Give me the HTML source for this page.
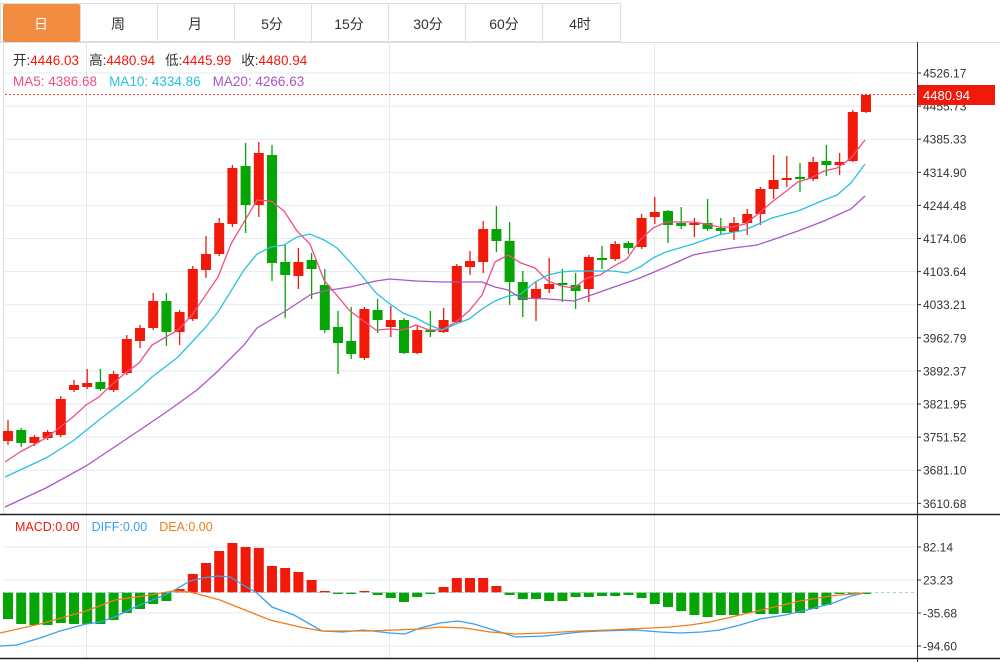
<!DOCTYPE html>
<html><head><meta charset="utf-8"><style>
body{margin:0;background:#fff;width:1000px;height:662px;overflow:hidden;font-family:"Liberation Sans","Noto Sans CJK SC",sans-serif}
svg{position:absolute;left:0;top:0}
</style></head><body>
<svg id="s" width="1000" height="662" xmlns="http://www.w3.org/2000/svg" font-family="Liberation Sans, Noto Sans CJK SC, sans-serif"></svg>
<script>
var s=document.getElementById('s'),h='';
var tabs=['日','周','月','5分','15分','30分','60分','4时'];
var cx=[41,118,195,272,349,428,504,580];
h+='<rect x="0.5" y="3.5" width="620" height="38" fill="#fff" stroke="#ddd"/>';
h+='<rect x="3" y="4" width="77" height="38" fill="#f28c41" rx="2"/>';
var bx=[80,157,234,311,388,465,542,620];
for(var i=0;i<bx.length;i++)h+='<line x1="'+(bx[i]+0.5)+'" y1="4" x2="'+(bx[i]+0.5)+'" y2="42" stroke="#ddd"/>';
for(var i=0;i<8;i++)h+='<text x="'+cx[i]+'" y="29" font-size="14" text-anchor="middle" fill="'+(i==0?'#fff':'#333')+'">'+tabs[i]+'</text>';
h+='<line x1="0" y1="42.5" x2="1000" y2="42.5" stroke="#ddd"/>';
h+='<line x1="3.5" y1="42" x2="3.5" y2="514" stroke="#ddd"/>';
var pl=['4526.17','4455.73','4385.33','4314.90','4244.48','4174.06','4103.64','4033.21','3962.79','3892.37','3821.95','3751.52','3681.10','3610.68'];
for(var k=0;k<14;k++){var y=73+k*33.1;h+='<line x1="4" y1="'+y.toFixed(1)+'" x2="917" y2="'+y.toFixed(1)+'" stroke="#e3ebf2"/>';
h+='<line x1="917" y1="'+y.toFixed(1)+'" x2="921" y2="'+y.toFixed(1)+'" stroke="#333"/>';
h+='<text x="923" y="'+(y+4.5).toFixed(1)+'" font-size="12" fill="#333">'+pl[k]+'</text>';}
[86,389,654].forEach(function(x){h+='<line x1="'+x+'.5" y1="42" x2="'+x+'.5" y2="658" stroke="#e3ebf2"/>';});
[547,580,613,646].forEach(function(y,k){h+='<line x1="4" y1="'+y+'" x2="917" y2="'+y+'" stroke="#e3ebf2"/><line x1="917" y1="'+y+'" x2="921" y2="'+y+'" stroke="#333"/><text x="923" y="'+(y+4.5)+'" font-size="12" fill="#333">'+['82.14','23.23','-35.68','-94.60'][k]+'</text>';});
h+='<line x1="917.5" y1="42" x2="917.5" y2="662" stroke="#333"/>';
h+='<line x1="0" y1="514.5" x2="1000" y2="514.5" stroke="#222" stroke-width="1.5"/>';
h+='<line x1="0" y1="658.5" x2="1000" y2="658.5" stroke="#222" stroke-width="1.5"/>';
h+='<text x="13" y="65" font-size="13.5"><tspan fill="#333">开:</tspan><tspan fill="#f0190a">4446.03</tspan><tspan fill="#333" dx="10">高:</tspan><tspan fill="#f0190a">4480.94</tspan><tspan fill="#333" dx="10">低:</tspan><tspan fill="#f0190a">4445.99</tspan><tspan fill="#333" dx="10">收:</tspan><tspan fill="#f0190a">4480.94</tspan></text>';
h+='<text x="13" y="86" font-size="13.5"><tspan fill="#ee4f83">MA5: 4386.68</tspan><tspan fill="#29c2dc" dx="12">MA10: 4334.86</tspan><tspan fill="#ab55c9" dx="12">MA20: 4266.63</tspan></text>';
h+='<text x="15" y="531" font-size="12.5"><tspan fill="#f0190a">MACD:0.00</tspan><tspan fill="#3aa0f0" dx="12">DIFF:0.00</tspan><tspan fill="#f07d1c" dx="12">DEA:0.00</tspan></text>';
var C=[['r',441,431,420,445],['g',430,443,428,447],['r',443,437,435,446],['r',438,432,430,440],['r',435,399,396,437],['r',390,385,380,392],['r',387,383,369,389],['g',382,389,369,391],['r',390,374,371,392],['r',373,339,335,375],['r',341,328,325,348],['r',328,301,293,330],['g',301,332,293,346],['r',332,312,310,345],['r',319,269,266,321],['r',270,254,236,278],['r',254,223,218,256],['r',224,168,165,227],['g',166,205,143,233],['r',205,153,142,217],['g',155,263,145,281],['g',262,275,245,318],['r',276,262,248,289],['g',260,269,253,299],['g',285,330,269,333],['g',327,343,311,374],['g',341,354,307,359],['r',358,309,307,360],['g',310,320,299,333],['r',327,320,306,337],['g',320,353,318,354],['r',353,330,326,354],['g',330,332,311,337],['r',332,320,308,333],['r',322,266,264,323],['r',267,261,251,275],['r',262,229,221,273],['g',229,241,206,252],['g',241,282,222,305],['g',282,300,271,317],['r',298,289,282,321],['r',289,284,258,293],['g',283,285,269,302],['g',285,291,273,309],['r',289,257,255,302],['g',258,260,246,269],['r',259,244,241,261],['g',243,248,241,254],['r',247,218,214,249],['r',217,212,197,224],['g',211,225,210,243],['g',223,226,207,229],['r',225,223,218,237],['g',223,229,199,231],['g',228,231,218,234],['r',232,223,217,240],['r',223,214,209,235],['r',214,189,187,225],['r',189,180,155,199],['r',180,178,156,187],['g',177,179,163,192],['r',179,162,157,181],['g',161,165,145,176],['r',165,162,153,175],['r',161,112,110,162],['r',112,95,94,113]];
var R='#f0190a',G='#06a506';
C.forEach(function(c,i){var x=8+i*13.2,col=c[0]=='r'?R:G,t=Math.min(c[1],c[2]),b=Math.max(c[1],c[2]);if(b-t<2)b=t+2;
h+='<line x1="'+x.toFixed(1)+'" y1="'+c[3]+'" x2="'+x.toFixed(1)+'" y2="'+c[4]+'" stroke="'+col+'" stroke-width="1.3"/>';
h+='<rect x="'+(x-5).toFixed(1)+'" y="'+t+'" width="10" height="'+(b-t)+'" fill="'+col+'"/>';});
function pl2(p,c,w){h+='<polyline fill="none" stroke="'+c+'" stroke-width="'+(w||1.3)+'" points="'+p+'"/>';}
pl2('5,462 20,452 33,445 46,438 59,428 73,417 86,405 99,397 107,389 124,374 139,363 152,345 178,330 192,315 218,277 231,244 257,200 271,201 284,211 297,231 310,244 324,280 350,311 376,330 390,329 403,330 416,325 429,330 442,330 456,322 469,311 482,295 495,262 508,255 521,263 535,268 548,281 561,286 574,288 587,278 600,275 614,266 627,259 640,240 653,228 666,222 693,222 706,224 719,227 732,227 745,224 758,214 772,202 785,192 798,182 811,178 824,171 837,168 851,158 865,140','#ee4f83');
pl2('5,477 20,470 46,458 73,441 99,420 112,410 125,400 139,389 152,377 178,357 205,328 218,312 244,270 257,254 271,247 284,245 297,237 310,234 324,240 337,248 350,262 363,277 376,293 390,304 403,313 416,318 429,325 442,330 456,324 469,319 482,309 495,301 508,296 521,294 535,282 548,275 561,272 574,271 600,271 614,271 627,273 640,267 653,258 666,252 693,244 719,235 745,230 772,218 798,211 824,200 837,195 851,183 865,164','#29c2dc');
pl2('5,507 46,488 86,466 125,440 165,413 197,390 218,371 244,345 257,328 284,312 310,295 324,291 350,287 376,281 390,279 416,281 442,282 469,282 482,282 495,287 508,290 521,298 548,299 574,301 600,292 614,287 640,278 666,267 693,255 703,253 733,248 757,245 772,240 798,231 824,221 851,209 865,196','#ab55c9');
h+='<line x1="5" y1="94.5" x2="917" y2="94.5" stroke="#f0190a" stroke-dasharray="2,2" opacity="0.8"/>';
h+='<rect x="918" y="85" width="77" height="20" fill="#f0190a"/><text x="923" y="100" font-size="13" fill="#fff">4480.94</text>';
var M=[619,624,625,625,623,624,624,624,620,613,609,604,601,589,574,563,551,543,547,548,566,568,572,580,591,594,594,591,595,598,602,597,593,587,578,578,578,586,595,599,599,601,601,597,597,596,596,595,598,604,607,611,615,617,615,615,613,614,614,613,613,609,605,594,593,593];
M.forEach(function(v,i){var x=8+i*13.2;var t=Math.min(v,592.5),b=Math.max(v,592.5);if(b-t<1)b=t+1.5;h+='<rect x="'+(x-5).toFixed(1)+'" y="'+t+'" width="10" height="'+(b-t)+'" fill="'+(v<592.5?R:G)+'"/>';});
h+='<line x1="5" y1="592.5" x2="917" y2="592.5" stroke="#9fd0e8" stroke-dasharray="3,3"/>';
pl2('0,646 17,645 40,638 60,631 86,624 100,622 117,616 133,608 150,601 167,594 173,591 190,581 203,578 218,576 230,577 243,585 257,593 272,607 294,615 322,631 343,632 363,630 390,633 405,634 420,628 440,623 458,621 474,624 500,632 516,637 545,636 580,632 600,631 635,630 660,632 680,633 702,632 720,630 740,625 760,619 785,615 811,609 833,603 851,596 864,593','#3aa0f0');
pl2('0,633 40,624 86,611 115,600 150,595 173,591 190,592 205,596 220,600 250,612 270,620 300,627 322,631 370,631 420,629 440,627 465,628 490,632 516,634 545,633 580,631 610,630 650,628 670,627 690,625 710,622 740,615 770,608 800,601 830,596 864,593','#f07d1c');
s.innerHTML=h;
</script>
</body></html>
